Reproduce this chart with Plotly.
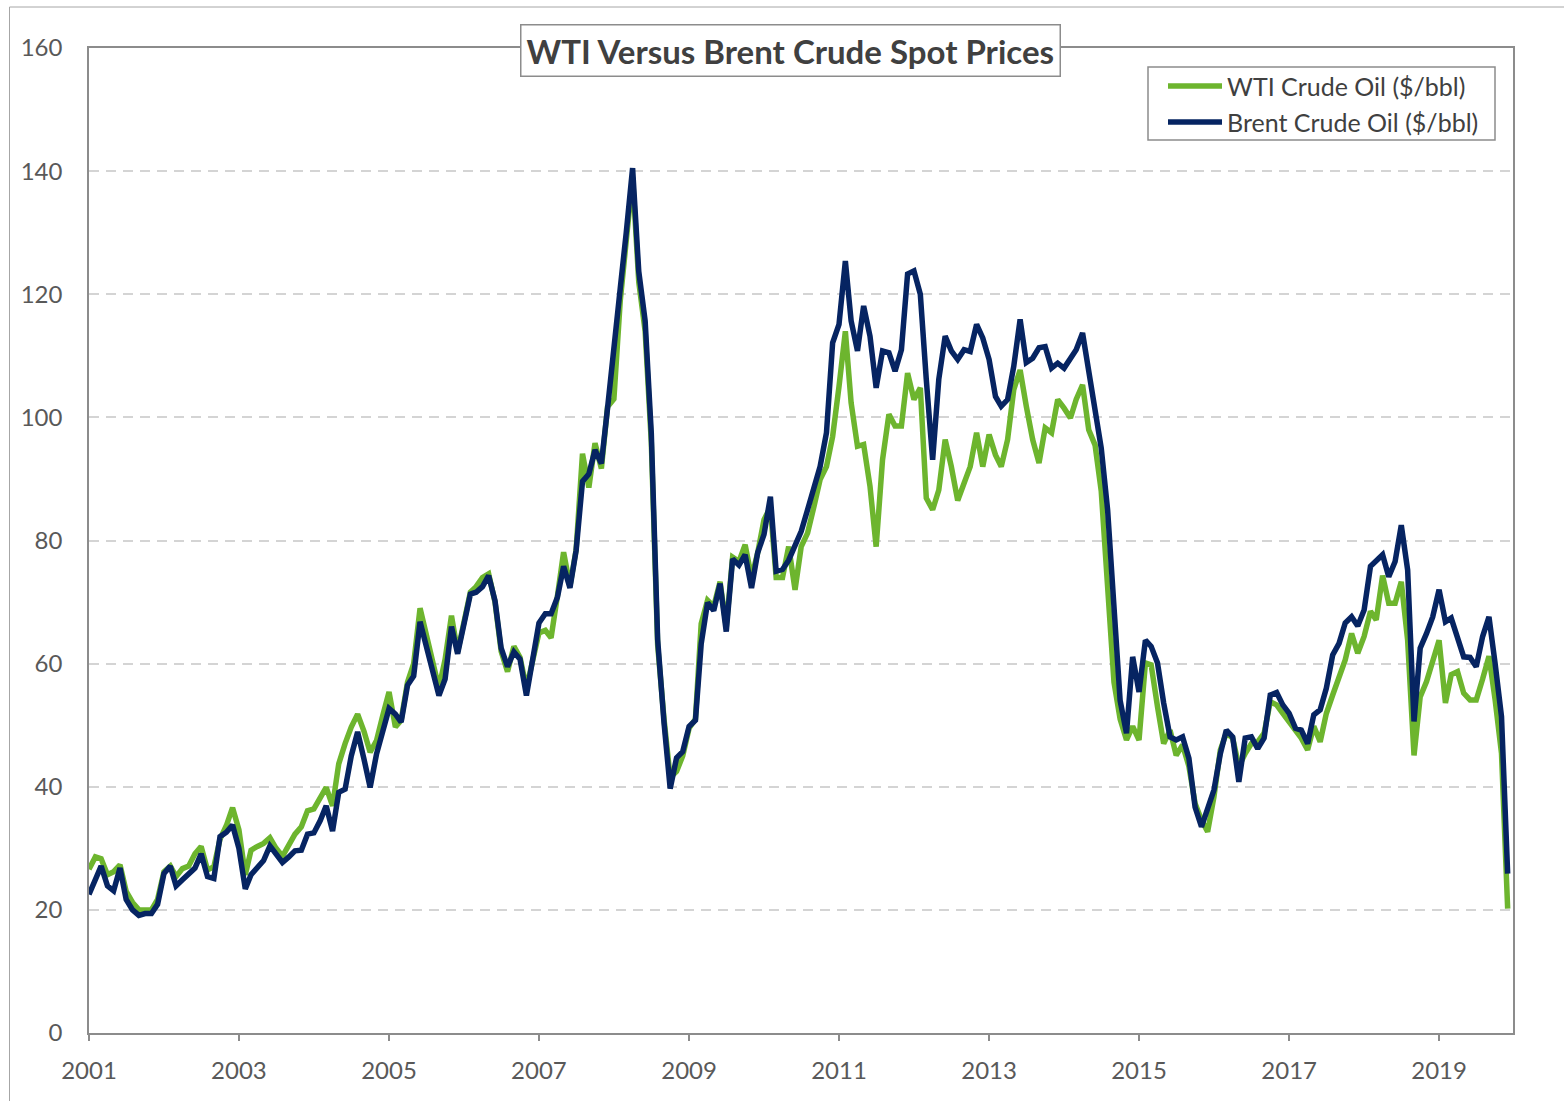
import pandas as pd
import plotly.graph_objects as go

# Monthly spot prices, $/bbl, starting January 2001
wti_prices = [
    26.6, 28.6, 28.3, 25.7, 26.2, 27.3, 23.0, 21.2, 20.0, 20.0,
    20.0, 21.7, 26.2, 27.1, 25.4, 26.7, 27.1, 29.1, 30.3, 26.5,
    27.0, 31.5, 33.7, 36.6, 33.0, 25.7, 29.7, 30.3, 30.8, 31.7,
    30.0, 28.7, 30.5, 32.3, 33.5, 36.1, 36.4, 38.0, 39.9, 36.9,
    43.7, 47.0, 49.7, 51.8, 49.0, 45.6, 47.5, 51.5, 55.4, 49.7,
    50.8, 57.0, 60.0, 69.0, 65.0, 60.0, 56.0, 60.7, 67.8, 61.9,
    66.5, 71.6, 72.5, 74.0, 74.6, 70.0, 62.0, 58.7, 62.8, 61.0,
    56.0, 60.0, 65.0, 65.4, 64.2, 71.0, 78.1, 72.6, 78.5, 94.1,
    88.6, 95.8, 91.7, 101.7, 103.0, 119.0, 129.0, 139.0, 122.0, 114.0,
    96.0, 63.0, 51.0, 41.5, 42.5, 45.0, 49.5, 51.0, 66.5, 70.3,
    69.3, 73.3, 65.9, 77.3, 76.6, 79.3, 74.0, 78.0, 83.4, 85.4,
    74.0, 74.0, 79.0, 72.0, 79.0, 81.2, 85.5, 89.9, 92.0, 96.9,
    105.0, 114.0, 102.4, 95.3, 95.6, 88.8, 79.0, 93.1, 100.5, 98.6,
    98.6, 107.2, 102.9, 104.8, 86.9, 85.0, 88.2, 96.4, 92.0, 86.5,
    89.3, 92.0, 97.5, 92.0, 97.2, 93.9, 92.0, 96.4, 104.5, 107.7,
    101.8, 96.4, 92.6, 98.3, 97.5, 102.9, 101.5, 99.9, 102.9, 105.3,
    98.0, 95.5, 88.0, 72.0, 57.0, 51.0, 47.6, 49.8, 47.6, 60.1,
    59.8, 53.0, 47.0, 49.2, 45.1, 46.8, 43.3, 37.3, 34.6, 32.7,
    38.4, 46.0, 48.7, 47.9, 43.3, 45.4, 47.0, 47.3, 48.7, 53.8,
    53.3, 51.9, 50.6, 49.2, 47.9, 46.0, 49.8, 47.3, 51.9, 54.9,
    57.9, 60.6, 64.9, 61.7, 64.4, 68.5, 67.1, 74.3, 69.8, 69.8,
    73.3, 63.8, 45.1, 54.6, 57.1, 60.1, 63.8, 53.6, 58.2, 58.7,
    55.2, 54.1, 54.1, 57.5, 61.2, 54.1, 45.4, 20.2,
]

brent_prices = [
    22.5, 24.8, 27.1, 23.9, 23.1, 26.8, 21.7, 20.0, 19.1, 19.4,
    19.4, 20.9, 25.9, 27.1, 23.9, 24.9, 25.8, 26.8, 29.1, 25.4,
    25.1, 31.9, 32.6, 33.8, 30.0, 23.4, 25.7, 26.8, 28.0, 30.4,
    29.0, 27.7, 28.6, 29.6, 29.7, 32.3, 32.5, 34.5, 36.9, 32.8,
    39.1, 39.6, 45.0, 48.9, 44.5, 39.9, 45.3, 49.0, 52.7, 51.8,
    50.5, 56.5, 58.0, 66.8, 63.0, 59.0, 54.8, 57.5, 66.0, 61.6,
    66.5, 71.3, 71.6, 72.5, 74.3, 70.2, 62.5, 59.5, 61.9, 60.7,
    54.8, 60.7, 66.6, 68.1, 68.1, 70.8, 75.8, 72.3, 78.4, 89.6,
    90.8, 94.7, 92.5, 101.5, 112.0, 121.0, 130.0, 140.5, 123.7, 115.7,
    97.5, 63.9, 50.4, 39.7, 44.7, 45.7, 49.8, 50.8, 63.2, 69.9,
    68.6, 73.0, 65.2, 77.0, 76.0, 77.7, 72.3, 78.0, 81.0, 87.1,
    75.0, 75.3, 76.8, 79.0, 81.5, 85.0, 89.0, 92.0, 97.5, 112.1,
    115.1, 125.4, 115.7, 110.8, 118.1, 113.2, 104.8, 110.8, 110.5, 107.5,
    111.0, 123.3, 123.8, 120.0, 106.2, 93.1, 106.2, 113.2, 110.8, 109.4,
    111.0, 110.7, 115.1, 112.9, 109.4, 103.4, 101.8, 102.9, 108.3, 115.9,
    108.9, 109.6, 111.3, 111.5, 108.0, 108.8, 108.0, 109.4, 111.0, 113.7,
    107.2, 101.5, 95.0, 85.0, 68.0, 54.0, 48.7, 61.1, 55.4, 63.8,
    62.8, 60.1, 53.6, 48.1, 47.6, 48.1, 44.6, 36.7, 33.5, 36.2,
    39.5, 45.4, 49.2, 48.1, 40.8, 47.9, 48.1, 46.2, 47.9, 54.9,
    55.3, 53.3, 51.9, 49.5, 49.2, 47.0, 51.7, 52.5, 56.0, 61.4,
    63.3, 66.6, 67.6, 66.1, 68.7, 75.8, 76.6, 77.7, 74.1, 76.6,
    82.5, 75.2, 50.6, 62.5, 64.9, 67.6, 72.0, 66.8, 67.4, 63.8,
    61.1, 61.0, 59.5, 64.4, 67.6, 60.0, 51.4, 25.9,
]

series_names = ["WTI Crude Oil ($/bbl)", "Brent Crude Oil ($/bbl)"]
tick_years = [2001, 2003, 2005, 2007, 2009, 2011, 2013, 2015, 2017, 2019]
chart_title = "WTI Versus Brent Crude Spot Prices"

GREEN = "#6db52e"
NAVY = "#062462"
TEXT = "#595959"
FRAME = "#8c8c8c"
FONT = "Lato"

months = pd.date_range("2001-01-01", periods=len(brent_prices), freq="MS")

fig = go.Figure()
fig.add_trace(go.Scatter(
    x=months, y=wti_prices, mode="lines", name=series_names[0],
    line=dict(color=GREEN, width=5.5), showlegend=False,
))
fig.add_trace(go.Scatter(
    x=months, y=brent_prices, mode="lines", name=series_names[1],
    line=dict(color=NAVY, width=5.5), showlegend=False,
))

W, H = 1564, 1101
L, R, T, B = 89, 51, 48, 68
pw, ph = W - L - R, H - T - B


def px_x(px):
    return (px - L) / pw


def px_y(py):
    return (H - B - py) / ph


fig.update_layout(
    width=W, height=H,
    margin=dict(l=L, r=R, t=T, b=B, pad=0),
    paper_bgcolor="white", plot_bgcolor="white",
    font=dict(family=FONT, color=TEXT),
    showlegend=False,
)

fig.update_xaxes(
    type="date",
    range=["2001-01-01", "2019-12-27"],
    tickvals=[pd.Timestamp(f"{y}-01-01") for y in tick_years],
    ticktext=[str(y) for y in tick_years],
    ticks="outside", ticklen=6, tickcolor=FRAME, tickwidth=1.5,
    tickfont=dict(family=FONT, size=24, color=TEXT),
    ticklabelstandoff=9,
    showgrid=False, zeroline=False,
    showline=True, linecolor=FRAME, linewidth=1.5, mirror=True,
)
fig.update_yaxes(
    range=[0, 160], dtick=20, tick0=0,
    ticks="", tickfont=dict(family=FONT, size=24, color=TEXT),
    ticklabelstandoff=20,
    showgrid=True, gridcolor="#d4d4d4", gridwidth=1.5, griddash="10px,7px",
    zeroline=False,
    showline=True, linecolor=FRAME, linewidth=1.5, mirror=True,
)

shapes = [
    # outer chart border
    dict(type="rect", xref="paper", yref="paper",
         x0=px_x(9.5), x1=px_x(1580), y0=px_y(1120), y1=px_y(7),
         line=dict(color="#a6a6a6", width=1), fillcolor="rgba(0,0,0,0)", layer="below"),
    # legend box
    dict(type="rect", xref="paper", yref="paper",
         x0=px_x(1148), x1=px_x(1495), y0=px_y(140), y1=px_y(67),
         line=dict(color=FRAME, width=1.5), fillcolor="white", layer="above"),
    # legend samples
    dict(type="line", xref="paper", yref="paper",
         x0=px_x(1168), x1=px_x(1222), y0=px_y(86), y1=px_y(86),
         line=dict(color=GREEN, width=5.5), layer="above"),
    dict(type="line", xref="paper", yref="paper",
         x0=px_x(1168), x1=px_x(1222), y0=px_y(122), y1=px_y(122),
         line=dict(color=NAVY, width=5.5), layer="above"),
]
fig.update_layout(shapes=shapes)

annotations = [
    dict(text=f"<b>{chart_title}</b>", xref="paper", yref="paper",
         x=px_x(790.5), y=px_y(50), xanchor="center", yanchor="middle",
         showarrow=False, font=dict(family=FONT, size=33, color="#404040"),
         bgcolor="white", bordercolor=FRAME, borderwidth=1.5, borderpad=5),
    dict(text=series_names[0], xref="paper", yref="paper",
         x=px_x(1225), y=px_y(86), xanchor="left", yanchor="middle",
         showarrow=False, font=dict(family=FONT, size=25, color="#404040")),
    dict(text=series_names[1], xref="paper", yref="paper",
         x=px_x(1225), y=px_y(122), xanchor="left", yanchor="middle",
         showarrow=False, font=dict(family=FONT, size=25, color="#404040")),
]
fig.update_layout(annotations=annotations)

fig.write_html("out.html")
